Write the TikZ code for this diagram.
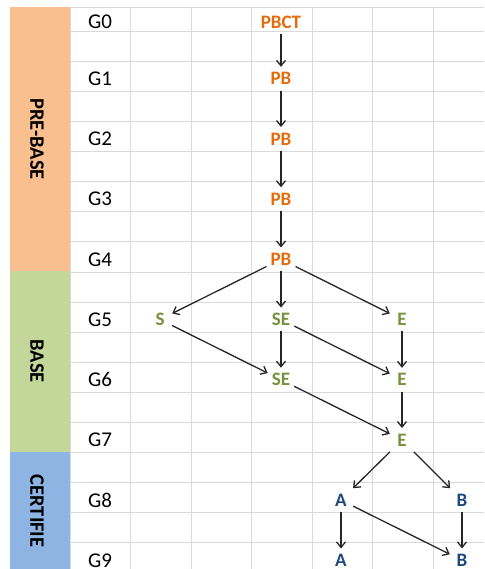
\documentclass[tikz,border=0pt]{standalone}
\usepackage{fontspec}
\setmainfont{Carlito}
\usetikzlibrary{arrows.meta}
\definecolor{Peach}{RGB}{250,191,143}
\definecolor{Olive}{RGB}{196,215,155}
\definecolor{Sky}{RGB}{141,180,226}
\definecolor{Rust}{RGB}{228,108,10}
\definecolor{Moss}{RGB}{118,146,60}
\definecolor{Ink}{RGB}{31,73,125}
\definecolor{Cell}{RGB}{218,218,218}
\definecolor{Dark}{RGB}{38,38,38}
\begin{document}
\begin{tikzpicture}[x=1pt,y=-1pt,
  phase/.style={rotate=-90,inner sep=0pt,font=\fontsize{20.5}{24}\selectfont\bfseries},
  gen/.style={inner sep=0pt,font=\fontsize{21}{24}\selectfont},
  gennode/.style={minimum width=24pt,inner xsep=4pt,inner ysep=5.5pt,font=\fontsize{19}{22}\selectfont\bfseries},
  prebase/.style={gennode,text=Rust},
  base/.style={gennode,text=Moss},
  certified/.style={gennode,text=Ink},
  flow/.style={-{Straight Barb[length=5.5pt,width=9pt]},line width=1.3pt,Dark}]
\useasboundingbox (0,0) rectangle (484,569);
\fill[white] (0,0) rectangle (484,569);
\foreach \i in {0,...,6} \draw[Cell,line width=.8pt] (70+60.5*\i,7) -- (70+60.5*\i,569);
\draw[Cell,line width=.8pt] (70,7) -- (484,7);
\foreach \k in {1,...,18} \draw[Cell,line width=.8pt] (70,1+30.1*\k) -- (484,1+30.1*\k);
\fill[Peach] (10,7) rectangle (70,271);
\fill[Olive] (10,271) rectangle (70,452);
\fill[Sky] (10,452) rectangle (70,569);
\node[phase] (prephase) at (37,139) {PRE-BASE};
\node[phase] (basephase) at (37,361) {BASE};
\node[phase] (certphase) at (37,511) {CERTIFIE};
\node[gen] (g0) at (100,22) {G0};
\foreach \k in {1,...,9} \node[gen] (g\k) at (100,18.5+60.2*\k) {G\k};
\node[prebase] (pbct) at (281,22) {PBCT};
\foreach \k in {1,...,4} \node[prebase] (pb\k) at (281,18.5+60.2*\k) {PB};
\node[base] (s5) at (160,319.5) {S};
\node[base] (se5) at (281,319.5) {SE};
\node[base] (e5) at (402,319.5) {E};
\node[base] (se6) at (281,379.7) {SE};
\node[base] (e6) at (402,379.7) {E};
\node[base] (e7) at (402,439.9) {E};
\node[certified] (a8) at (341,500.1) {A};
\node[certified] (b8) at (462,500.1) {B};
\node[certified] (a9) at (341,560.3) {A};
\node[certified] (b9) at (462,560.3) {B};
\draw[flow] (pbct)--(pb1); \draw[flow] (pb1)--(pb2); \draw[flow] (pb2)--(pb3); \draw[flow] (pb3)--(pb4);
\draw[flow] (pb4)--(s5); \draw[flow] (pb4)--(se5); \draw[flow] (pb4)--(e5);
\draw[flow] (s5)--(se6); \draw[flow] (se5)--(se6); \draw[flow] (se5)--(e6); \draw[flow] (e5)--(e6);
\draw[flow] (se6)--(e7); \draw[flow] (e6)--(e7);
\draw[flow] (e7)--(a8); \draw[flow] (e7)--(b8);
\draw[flow] (a8)--(a9); \draw[flow] (a8)--(b9); \draw[flow] (b8)--(b9);
\end{tikzpicture}
\end{document}
